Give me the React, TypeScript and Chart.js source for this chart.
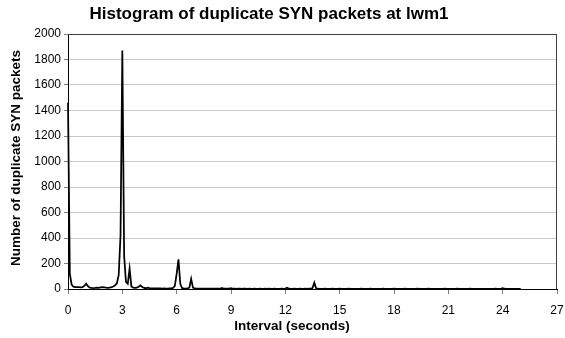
import React, { useEffect, useRef } from "react";
import { Chart, registerables } from "chart.js";

Chart.register(...registerables);

const TITLE = "Histogram of duplicate SYN packets at lwm1";
const X_TITLE = "Interval (seconds)";
const Y_TITLE = "Number of duplicate SYN packets";

const X_MIN = 0;
const X_MAX = 27;
const X_TICK_STEP = 3;
const Y_MIN = 0;
const Y_MAX = 2000;
const Y_TICK_STEP = 200;

// sampling of the histogram bins (seconds)
const INTERVAL_START = 0;
const INTERVAL_STEP = 0.1;

// packet counts per 0.1 s bin, from 0.0 s to 25.0 s
const COUNTS = [
  1460, 120, 35, 18, 15, 14, 15, 12, 14, 24,
  42, 22, 10, 8, 7, 8, 10, 9, 12, 14,
  12, 10, 9, 10, 14, 20, 28, 45, 110, 420,
  1870, 260, 55, 40, 160, 20, 10, 8, 10, 18,
  28, 15, 8, 6, 10, 7, 5, 5, 4, 5,
  4, 4, 3, 4, 3, 3, 4, 5, 8, 25,
  120, 232, 40, 6, 4, 3, 4, 10, 80, 10,
  4, 3, 3, 2, 3, 2, 2, 3, 2, 2,
  2, 2, 3, 2, 2, 8, 2, 2, 2, 3,
  7, 2, 2, 1, 2, 2, 1, 2, 2, 1,
  2, 1, 1, 2, 1, 1, 2, 1, 1, 2,
  1, 2, 1, 1, 2, 1, 1, 1, 2, 1,
  3, 10, 2, 1, 1, 2, 1, 1, 2, 1,
  1, 2, 1, 2, 2, 8, 50, 6, 2, 1,
  1, 1, 2, 1, 1, 1, 2, 1, 1, 1,
  2, 1, 1, 1, 1, 2, 1, 1, 1, 1,
  1, 1, 2, 1, 1, 1, 1, 2, 1, 1,
  1, 1, 1, 1, 2, 1, 1, 1, 1, 1,
  2, 1, 1, 1, 1, 1, 2, 1, 1, 1,
  1, 1, 1, 2, 1, 1, 1, 1, 1, 2,
  1, 1, 1, 1, 1, 1, 1, 1, 2, 1,
  1, 1, 1, 1, 1, 2, 1, 1, 1, 1,
  1, 1, 2, 1, 1, 1, 1, 1, 1, 1,
  1, 1, 1, 1, 1, 1, 2, 1, 1, 1,
  6, 2, 1, 1, 1, 1, 1, 1, 1, 1,
  1,
];

const FONT = "'Liberation Sans', Arial, Helvetica, sans-serif";

export default function App() {
  const ref = useRef<HTMLCanvasElement>(null);

  useEffect(() => {
    document.body.style.margin = "0";
    const canvas = ref.current;
    if (!canvas) return;

    const points = COUNTS.map((y, i) => ({
      x: Math.round((INTERVAL_START + i * INTERVAL_STEP) * 10) / 10,
      y,
    }));

    const framePlugin = {
      id: "frameAndTitles",
      beforeDatasetsDraw(chart: any) {
        const { ctx, chartArea: a } = chart;
        ctx.save();
        ctx.strokeStyle = "#404040";
        ctx.lineWidth = 1;
        ctx.beginPath();
        ctx.moveTo(a.left, Math.round(a.top) + 0.5);
        ctx.lineTo(a.right, Math.round(a.top) + 0.5);
        ctx.moveTo(Math.round(a.right) - 0.5, a.top);
        ctx.lineTo(Math.round(a.right) - 0.5, a.bottom);
        ctx.stroke();
        ctx.restore();
      },
      afterDraw(chart: any) {
        const { ctx } = chart;
        ctx.save();
        ctx.fillStyle = "#000";
        ctx.textAlign = "center";
        ctx.textBaseline = "middle";
        ctx.font = `bold 17px ${FONT}`;
        ctx.fillText(TITLE, 269, 14);
        ctx.font = `bold 13.5px ${FONT}`;
        ctx.fillText(X_TITLE, 292, 326);
        ctx.translate(16, 158);
        ctx.rotate(-Math.PI / 2);
        ctx.fillText(Y_TITLE, 0, 0);
        ctx.restore();
      },
    };

    const chart = new Chart(canvas, {
      type: "line",
      data: {
        datasets: [
          {
            data: points,
            borderColor: "#000",
            borderWidth: 1.75,
            pointRadius: 0,
            tension: 0,
            fill: false,
            clip: 2,
          },
        ],
      },
      options: {
        responsive: false,
        animation: false,
        layout: { padding: { left: 0, right: 8, top: 34, bottom: 0 } },
        plugins: {
          legend: { display: false },
          title: { display: false },
          tooltip: { enabled: false },
        },
        scales: {
          x: {
            type: "linear",
            min: X_MIN,
            max: X_MAX,
            ticks: {
              stepSize: X_TICK_STEP,
              color: "#000",
              font: { family: FONT, size: 12 },
              padding: 9,
              maxRotation: 0,
              callback: (v: any) => String(v),
            },
            grid: {
              drawOnChartArea: false,
              drawTicks: true,
              tickLength: 5,
              color: "#808080",
            },
            border: { color: "#000", width: 1 },
            afterFit: (s: any) => {
              s.height = 49;
              s.paddingLeft = 0;
              s.paddingRight = 0;
            },
          },
          y: {
            type: "linear",
            min: Y_MIN,
            max: Y_MAX,
            ticks: {
              stepSize: Y_TICK_STEP,
              color: "#000",
              font: { family: FONT, size: 12 },
              padding: 3,
              callback: (v: any) => String(v),
            },
            grid: {
              color: "#c8c8c8",
              tickColor: "#808080",
              tickLength: 4,
            },
            border: { color: "#000", width: 1 },
            afterFit: (s: any) => {
              s.width = 68;
            },
          },
        },
      },
      plugins: [framePlugin],
    } as any);

    return () => chart.destroy();
  }, []);

  return (
    <canvas
      ref={ref}
      width={565}
      height={338}
      style={{ display: "block", width: 565, height: 338 }}
    />
  );
}
